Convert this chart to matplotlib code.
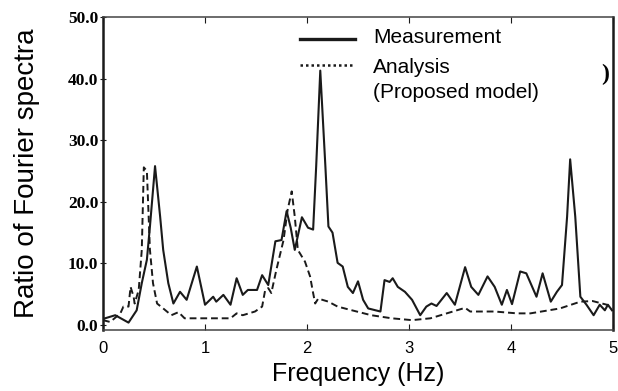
import matplotlib
matplotlib.use('Agg')
import matplotlib.pyplot as plt
from matplotlib.lines import Line2D

# Measurement (solid) - frequency (Hz) / ratio
meas_f = [0.0, 0.12, 0.25, 0.33, 0.38, 0.43, 0.46, 0.51, 0.56, 0.59, 0.64, 0.69,
          0.755, 0.82, 0.92, 1.0, 1.08, 1.11, 1.18, 1.25, 1.31, 1.37, 1.42, 1.51,
          1.56, 1.62, 1.69, 1.75, 1.80, 1.84, 1.88, 1.95, 2.01, 2.06, 2.09, 2.13,
          2.18, 2.21, 2.25, 2.30, 2.35, 2.40, 2.45, 2.50, 2.55, 2.60, 2.72, 2.76,
          2.81, 2.84, 2.89, 2.96, 3.03, 3.11, 3.17, 3.22, 3.27, 3.37, 3.45, 3.55,
          3.61, 3.68, 3.77, 3.84, 3.91, 3.96, 4.01, 4.09, 4.15, 4.25, 4.31, 4.39,
          4.45, 4.50, 4.55, 4.58, 4.63, 4.68, 4.74, 4.81, 4.87, 4.92, 4.95, 4.99]
meas_r = [1.0, 1.6, 0.4, 2.4, 6.8, 10.6, 16.0, 25.8, 17.6, 12.2, 6.8, 3.5,
          5.4, 4.1, 9.5, 3.3, 4.6, 3.8, 4.9, 3.3, 7.6, 4.9, 5.7, 5.7,
          8.1, 6.5, 13.6, 13.8, 18.5, 15.8, 12.2, 17.5, 15.8, 15.5, 25.8, 41.3,
          25.8, 16.0, 15.0, 10.1, 9.5, 6.2, 5.2, 7.1, 4.1, 2.7, 2.2, 7.3,
          7.0, 7.6, 6.2, 5.4, 4.1, 1.6, 3.0, 3.5, 3.1, 5.2, 3.3, 9.4,
          6.2, 4.9, 7.9, 6.2, 3.3, 5.7, 3.4, 8.7, 8.4, 4.6, 8.4, 3.8,
          5.4, 6.5, 17.6, 26.9, 17.6, 4.6, 3.3, 1.6, 3.3, 2.4, 3.3, 2.4]

# Analysis (proposed model, dashed)
anal_f = [0.0, 0.07, 0.17, 0.20, 0.25, 0.27, 0.30, 0.31, 0.35, 0.38, 0.40, 0.43,
          0.46, 0.49, 0.53, 0.59, 0.67, 0.74, 0.80, 0.95, 1.25, 1.31, 1.37, 1.49,
          1.56, 1.59, 1.62, 1.65, 1.70, 1.77, 1.81, 1.85, 1.88, 1.91, 1.98, 2.03,
          2.06, 2.08, 2.11, 2.21, 2.30, 2.44, 2.63, 2.83, 3.03, 3.21, 3.37, 3.55,
          3.60, 3.84, 4.06, 4.19, 4.48, 4.68, 4.80, 4.94, 4.99]
anal_r = [0.8, 0.5, 1.9, 3.0, 3.0, 6.2, 4.6, 3.5, 5.7, 12.2, 25.6, 25.0,
          12.2, 6.8, 3.5, 2.7, 1.6, 2.1, 1.1, 1.1, 1.1, 1.9, 1.6, 2.2,
          3.0, 5.7, 6.0, 5.2, 9.0, 13.8, 18.7, 21.7, 17.6, 12.2, 10.3, 7.9,
          5.2, 3.5, 4.3, 3.8, 3.0, 2.4, 1.6, 1.1, 0.8, 1.1, 1.9, 2.8,
          2.2, 2.2, 1.9, 1.9, 2.7, 3.8, 3.9, 3.3, 2.7]

y_ticks = [0, 10, 20, 30, 40, 50]
x_ticks = [0, 1, 2, 3, 4, 5]

ink = '#1a1a1a'

fig = plt.figure(figsize=(6.18, 3.91), dpi=100)
ax = fig.add_axes([0.1667, 0.156, 0.8252, 0.8005])

ax.plot(meas_f, meas_r, color=ink, lw=1.5, solid_joinstyle='round')
ax.plot(anal_f, anal_r, color=ink, lw=1.4, dashes=(3.5, 2))

ax.set_xlim(0, 5)
ax.set_ylim(-0.8, 50)
ax.set_xticks(x_ticks)
ax.set_xticklabels([str(v) for v in x_ticks], family='Liberation Sans', fontsize=12)
ax.set_yticks(y_ticks)
ax.set_yticklabels([f'{v:.1f}' for v in y_ticks], family='Liberation Serif',
                   fontweight='bold', fontsize=12.5)
ax.tick_params(axis='x', direction='in', length=4, top=True, pad=8, color=ink)
ax.tick_params(axis='y', direction='inout', length=5, pad=1, color=ink)
for side in ['left', 'right']:
    ax.spines[side].set_linewidth(1.8)
    ax.spines[side].set_color(ink)
for side in ['top', 'bottom']:
    ax.spines[side].set_linewidth(1.1)
    ax.spines[side].set_color('#444444')

ax.set_xlabel('Frequency (Hz)', family='Liberation Sans', fontsize=18, labelpad=4)
ax.set_ylabel('Ratio of Fourier spectra', family='Liberation Sans', fontsize=20,
              labelpad=20)

# hand-drawn style legend
ax.add_line(Line2D([0.386, 0.494], [0.930, 0.930], transform=ax.transAxes,
                   color=ink, lw=2.4))
ax.add_line(Line2D([0.386, 0.494], [0.847, 0.847], transform=ax.transAxes,
                   color=ink, lw=1.8, dashes=(1, 1.2)))
ax.text(0.529, 0.933, 'Measurement', transform=ax.transAxes, va='center',
        family='Liberation Sans', fontsize=15)
ax.text(0.529, 0.840, 'Analysis', transform=ax.transAxes, va='center',
        family='Liberation Sans', fontsize=15)
ax.text(0.529, 0.760, '(Proposed model)', transform=ax.transAxes, va='center',
        family='Liberation Sans', fontsize=15)
ax.text(0.984, 0.815, ')', transform=ax.transAxes, va='center', ha='center',
        family='Liberation Serif', fontweight='bold', fontsize=17)

fig.savefig('out.png', dpi=100)
